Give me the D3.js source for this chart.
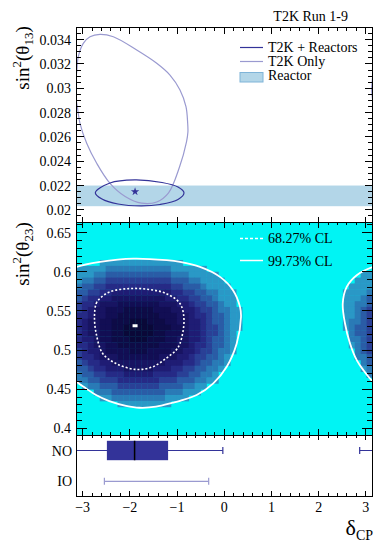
<!DOCTYPE html>
<html>
<head>
<meta charset="utf-8">
<script src="https://cdn.jsdelivr.net/npm/d3@7"></script>
<style>
  body { margin: 0; background: #fff; }
  svg text { font-family: "Liberation Serif", "Times New Roman", serif; fill: #000; }
</style>
</head>
<body>
<svg id="chart" width="389" height="548"></svg>
<script>
// ---- axis ticks / labels
const dcpTicks = [-3, -2, -1, 0, 1, 2, 3];
const dcpTickLabels = ['\u22123', '\u22122', '\u22121', '0', '1', '2', '3'];
const s13Ticks = [0.02, 0.022, 0.024, 0.026, 0.028, 0.03, 0.032, 0.034];
const s13TickLabels = ['0.02', '0.022', '0.024', '0.026', '0.028', '0.03', '0.032', '0.034'];
const s23Ticks = [0.4, 0.45, 0.5, 0.55, 0.6, 0.65];
const s23TickLabels = ['0.4', '0.45', '0.5', '0.55', '0.6', '0.65'];
const orderings = ['NO', 'IO'];

// ---- top panel: sin^2(theta13) vs dCP
const reactorBand = [0.0203, 0.0220];
const t2kOnlyDcp = [-2.633, -2.351, -1.855, -1.431, -1.150, -0.938, -0.811, -0.775, -0.770, -0.800, -0.950,
  -1.180, -1.431, -1.750, -2.100, -2.421, -2.703, -2.915, -3.057, -3.110, -3.150, -3.160, -3.148, -3.125, -3.093, -2.987, -2.845];
const t2kOnlyS13 = [0.03444, 0.03424, 0.03315, 0.03206, 0.03109, 0.02986, 0.02849, 0.02712, 0.02640, 0.02560, 0.02350,
  0.02140, 0.02065, 0.02055, 0.02110, 0.02218, 0.02383, 0.02547, 0.02712, 0.02838, 0.02940, 0.03000, 0.03060, 0.03140, 0.03260, 0.03370, 0.03424];
const t2kReacDcp = [-2.732, -2.421, -1.898, -1.319, -0.980, -0.853, -0.980, -1.361, -1.764, -2.252, -2.591];
const t2kReacS13 = [0.02141, 0.02221, 0.02246, 0.02225, 0.02188, 0.02141, 0.02085, 0.02044, 0.02032, 0.02048, 0.02089];
const bestFitTop = [-1.89, 0.02150];

// ---- middle panel: sin^2(theta23) vs dCP
const cl68Dcp = [-2.750, -2.714, -2.630, -2.433, -2.009, -1.586, -1.232, -0.938, -0.853, -0.938, -1.022, -1.234,
  -1.516, -1.870, -2.294, -2.576, -2.714];
const cl68S23 = [0.5423, 0.5594, 0.5662, 0.5742, 0.5785, 0.5773, 0.5722, 0.5594, 0.5381, 0.5084, 0.4999, 0.4893,
  0.4786, 0.4752, 0.4829, 0.4956, 0.5212];
const cl997Dcp = [-3.142, -2.633, -1.927, -1.219, -0.938, -0.514, -0.090, 0.185, 0.334, 0.355, 0.264, 0.052, -0.232,
  -0.584, -0.938, -1.092, -1.446, -1.800, -2.082, -2.436, -2.717, -2.929, -3.142, -3.336, -3.476, -3.618, -3.724,
  -3.772, -3.688, -3.476];
const cl997S23 = [0.6058, 0.6125, 0.6168, 0.6147, 0.6125, 0.6061, 0.5934, 0.5764, 0.5551, 0.5423, 0.5084, 0.4786, 0.4574,
  0.4425, 0.4352, 0.4327, 0.4276, 0.4263, 0.4288, 0.4348, 0.4425, 0.4510, 0.4602, 0.4744, 0.4871, 0.5084, 0.5339,
  0.5594, 0.5806, 0.5955];
const bestFitMid = [-1.89, 0.531];

// heat map: 50 dCP bins, rows of 0.0075 in sin^2(theta23) from 0.615 downwards
// digit = colour level, '.' = empty cell
const heatCols = 50;
const heatTop = 0.615;
const heatBin = 0.0075;
const heatLeft = [
  '....99999999999999',
  '9999988888888888999999',
  '999887777777777788899999',
  '9887766666666666777889999',
  '87766555555555556677789999',
  '776655444444444455667788999',
  '765544333333333445566778999',
  '655433322222223334456677899',
  '6543322211111222334456678899',
  '5543322111111122233455677899',
  '5433221110001112233445677899',
  '5433221100000111223445667899',
  '543322110000011222344566789',
  '544322111000111223344567789',
  '554332211111112223345567789',
  '654432222111222233445667889',
  '65543332222222333445667789',
  '76554433333333344455677889',
  '7765544433333444556677889',
  '877665554444455556677889',
  '887766655555556667778899',
  '.988777666666677778899',
  '...888777777777888999',
  '....998888888889999',
  '.......999999999'
];
const heatRight = ['', '', '99', '999', '9999', '99998', '99987', '99887', '99876', '99876', '98876', '98776',
  '8776', '8876', '9876', '876', '887', '87', '98', '8', '', '', '', '', ''];
const heatColors = ['#0a0838', '#0e0b46', '#120e54', '#181462', '#1f1c74', '#262a86', '#2a4096', '#2a5ca6', '#2a7ab6', '#2a98c6'];

// ---- bottom panel: 1D intervals
const noBox = [-2.487, -1.90, -1.19];           // q1, median, q3
const noWhiskers = [[-Math.PI, -0.03], [2.87, Math.PI]];
const noCaps = [-0.03, 2.87];
const ioWhisker = [-2.54, -0.33];

const NAVY = '#333399', LILAC = '#9a9ad0', CYAN = '#00f4f4';

const svg = d3.select('#chart');
const X0 = 76, X1 = 372.5;
const TOP0 = 27.5, MID0 = 222, MID1 = 435, BOT1 = 496.5;
const x = d3.scaleLinear().domain([-Math.PI, Math.PI]).range([X0, X1]);
const yTop = d3.scaleLinear().domain([0.019, 0.035]).range([MID0, TOP0]);
const yMid = d3.scaleLinear().domain([0.3915, 0.6635]).range([MID1, MID0]);
const yBot = d3.scalePoint().domain(orderings).range([450.5, 481.3]);
const period = x(Math.PI) - x(-Math.PI);

const defs = svg.append('defs');
defs.append('clipPath').attr('id', 'clipTop').append('rect')
  .attr('x', X0).attr('y', TOP0).attr('width', X1 - X0).attr('height', MID0 - TOP0);
defs.append('clipPath').attr('id', 'clipMid').append('rect')
  .attr('x', X0).attr('y', MID0).attr('width', X1 - X0).attr('height', MID1 - MID0);
defs.append('clipPath').attr('id', 'clipBot').append('rect')
  .attr('x', X0).attr('y', MID1).attr('width', X1 - X0).attr('height', BOT1 - MID1);

// ================= top panel
const topG = svg.append('g').attr('clip-path', 'url(#clipTop)');
topG.append('rect')
  .attr('x', X0).attr('width', X1 - X0)
  .attr('y', yTop(reactorBand[1])).attr('height', yTop(reactorBand[0]) - yTop(reactorBand[1]))
  .attr('fill', '#b3d6e8');

const lineTop = d3.line().x(d => x(d[0])).y(d => yTop(d[1])).curve(d3.curveCatmullRomClosed.alpha(0.5));
const t2kOnly = d3.zip(t2kOnlyDcp, t2kOnlyS13);
[0, period].forEach(dx => {
  topG.append('path').attr('d', lineTop(t2kOnly)).attr('transform', `translate(${dx},0)`)
    .attr('fill', 'none').attr('stroke', LILAC).attr('stroke-width', 1.2);
});
topG.append('path').attr('d', lineTop(d3.zip(t2kReacDcp, t2kReacS13)))
  .attr('fill', 'none').attr('stroke', NAVY).attr('stroke-width', 1.2);
topG.append('path').attr('d', d3.symbol(d3.symbolStar, 22)())
  .attr('transform', `translate(${x(bestFitTop[0])},${yTop(bestFitTop[1])})`)
  .attr('fill', NAVY);

// ================= middle panel
const midG = svg.append('g').attr('clip-path', 'url(#clipMid)');
midG.append('rect').attr('x', X0).attr('y', MID0).attr('width', X1 - X0).attr('height', MID1 - MID0).attr('fill', CYAN);

const binW = 2 * Math.PI / heatCols;
const cells = [];
heatLeft.forEach((row, i) => {
  row.split('').forEach((ch, c) => { if (ch !== '.') cells.push({ i, c, lv: +ch }); });
  const r = heatRight[i];
  r.split('').forEach((ch, k) => { if (ch !== '.') cells.push({ i, c: heatCols - r.length + k, lv: +ch }); });
});
midG.append('g').selectAll('rect').data(cells).join('rect')
  .attr('x', d => x(-Math.PI + d.c * binW))
  .attr('width', d => x(-Math.PI + (d.c + 1) * binW) - x(-Math.PI + d.c * binW) + 0.4)
  .attr('y', d => yMid(heatTop - d.i * heatBin))
  .attr('height', d => yMid(heatTop - (d.i + 1) * heatBin) - yMid(heatTop - d.i * heatBin) + 0.4)
  .attr('fill', d => heatColors[d.lv]);

const lineMid = d3.line().x(d => x(d[0])).y(d => yMid(d[1])).curve(d3.curveCatmullRomClosed.alpha(0.5));
[0, period].forEach(dx => {
  midG.append('path').attr('d', lineMid(d3.zip(cl997Dcp, cl997S23))).attr('transform', `translate(${dx},0)`)
    .attr('fill', 'none').attr('stroke', '#fff').attr('stroke-width', 1.8);
});
midG.append('path').attr('d', lineMid(d3.zip(cl68Dcp, cl68S23)))
  .attr('fill', 'none').attr('stroke', '#fff').attr('stroke-width', 1.6).attr('stroke-dasharray', '2,2');
midG.append('rect')
  .attr('x', x(bestFitMid[0]) - 2.5).attr('y', yMid(bestFitMid[1]) - 1.5)
  .attr('width', 5).attr('height', 3).attr('fill', '#fff');

// ================= bottom panel
const botG = svg.append('g').attr('clip-path', 'url(#clipBot)');
const yNO = yBot('NO'), yIO = yBot('IO');
noWhiskers.forEach(w => {
  botG.append('line').attr('x1', x(w[0])).attr('x2', x(w[1])).attr('y1', yNO).attr('y2', yNO)
    .attr('stroke', NAVY).attr('stroke-width', 1.2);
});
noCaps.forEach(v => {
  botG.append('line').attr('x1', x(v)).attr('x2', x(v)).attr('y1', yNO - 3.5).attr('y2', yNO + 3.5)
    .attr('stroke', NAVY).attr('stroke-width', 1.2);
});
botG.append('rect').attr('x', x(noBox[0])).attr('width', x(noBox[2]) - x(noBox[0]))
  .attr('y', yNO - 9.7).attr('height', 19.4).attr('fill', NAVY);
botG.append('line').attr('x1', x(noBox[1])).attr('x2', x(noBox[1])).attr('y1', yNO - 9.7).attr('y2', yNO + 9.7)
  .attr('stroke', '#000').attr('stroke-width', 1.5);
botG.append('line').attr('x1', x(ioWhisker[0])).attr('x2', x(ioWhisker[1])).attr('y1', yIO).attr('y2', yIO)
  .attr('stroke', LILAC).attr('stroke-width', 1.2);
ioWhisker.forEach(v => {
  botG.append('line').attr('x1', x(v)).attr('x2', x(v)).attr('y1', yIO - 3.5).attr('y2', yIO + 3.5)
    .attr('stroke', LILAC).attr('stroke-width', 1.2);
});

// ================= frames and ticks
const axes = svg.append('g').attr('stroke', '#000').attr('stroke-width', 1).attr('shape-rendering', 'crispEdges');
axes.append('path').attr('fill', 'none')
  .attr('d', `M${X0},${MID0}V${TOP0}H${X1}V${MID0}`);
axes.append('rect').attr('fill', 'none').attr('x', X0).attr('y', MID0).attr('width', X1 - X0).attr('height', MID1 - MID0);
axes.append('rect').attr('fill', 'none').attr('x', X0).attr('y', MID1).attr('width', X1 - X0).attr('height', BOT1 - MID1);

const dcpMinor = d3.range(-15, 16).map(i => ({ v: i * 0.2, major: i % 5 === 0 }));
function xTicks(yEdge, dir, majL, minL, majorOnly) {
  dcpMinor.filter(t => !majorOnly || t.major).forEach(t => {
    axes.append('line').attr('x1', x(t.v)).attr('x2', x(t.v))
      .attr('y1', yEdge).attr('y2', yEdge + dir * (t.major ? majL : minL));
  });
}
xTicks(TOP0, 1, 6, 3.5);
xTicks(MID0, -1, 5, 3, true);
xTicks(MID0, 1, 6, 3);
xTicks(MID1, -1, 6, 3);
xTicks(MID1, 1, 5, 2.5);
xTicks(BOT1, -1, 6, 3.5);

function yTicks(scale, list, majL, minL) {
  list.forEach(t => {
    const y = scale(t.v), L = t.major ? majL : minL;
    axes.append('line').attr('x1', X0).attr('x2', X0 + L).attr('y1', y).attr('y2', y);
    axes.append('line').attr('x1', X1).attr('x2', X1 - L).attr('y1', y).attr('y2', y);
  });
}
yTicks(yTop, d3.range(39, 70).map(i => ({ v: i * 0.0005, major: i % 4 === 0 })), 8, 5);
yTicks(yMid, d3.range(40, 67).map(i => ({ v: i / 100, major: i % 5 === 0 })), 11, 6);

// ================= tick labels
const labels = svg.append('g').attr('font-size', 14);
s13Ticks.forEach((v, i) => {
  labels.append('text').attr('x', 71).attr('y', yTop(v) + 5).attr('text-anchor', 'end').text(s13TickLabels[i]);
});
s23Ticks.forEach((v, i) => {
  labels.append('text').attr('x', 71).attr('y', yMid(v) + 5).attr('text-anchor', 'end').text(s23TickLabels[i]);
});
orderings.forEach(o => {
  labels.append('text').attr('x', 72).attr('y', yBot(o) + 5).attr('text-anchor', 'end').text(o);
});
dcpTicks.forEach((v, i) => {
  labels.append('text').attr('x', x(v)).attr('y', 512).attr('text-anchor', 'middle').text(dcpTickLabels[i]);
});

// ================= axis titles
function sinTitle(cx, cy, sub) {
  const t = svg.append('text').attr('transform', `translate(${cx},${cy}) rotate(-90)`)
    .attr('text-anchor', 'middle').attr('font-size', 19);
  t.append('tspan').text('sin');
  t.append('tspan').attr('font-size', 13).attr('dy', -8).text('2');
  t.append('tspan').attr('dy', 8).text('(\u03b8');
  t.append('tspan').attr('font-size', 13).attr('dy', 4).text(sub);
  t.append('tspan').attr('dy', -4).text(')');
}
sinTitle(29, 58, '13');
sinTitle(29, 254, '23');

const dt = svg.append('text').attr('x', 373).attr('y', 535).attr('text-anchor', 'end');
dt.append('tspan').attr('font-size', 22).text('\u03b4');
dt.append('tspan').attr('font-size', 14).attr('dy', 5).text('CP');

svg.append('text').attr('x', 348).attr('y', 21).attr('text-anchor', 'end').attr('font-size', 14).text('T2K Run 1-9');

// ================= legends
const lg = svg.append('g').attr('font-size', 14);
lg.append('line').attr('x1', 240).attr('x2', 263).attr('y1', 47.5).attr('y2', 47.5).attr('stroke', NAVY).attr('stroke-width', 1.2);
lg.append('text').attr('x', 268).attr('y', 52).text('T2K + Reactors');
lg.append('line').attr('x1', 240).attr('x2', 263).attr('y1', 61.5).attr('y2', 61.5).attr('stroke', LILAC).attr('stroke-width', 1.2);
lg.append('text').attr('x', 268).attr('y', 66).text('T2K Only');
lg.append('rect').attr('x', 240).attr('y', 72.5).attr('width', 23).attr('height', 9.5)
  .attr('fill', '#b3d6e8').attr('stroke', '#7fb4d8').attr('stroke-width', 1);
lg.append('text').attr('x', 268).attr('y', 80).text('Reactor');

lg.append('line').attr('x1', 240).attr('x2', 263).attr('y1', 238.5).attr('y2', 238.5)
  .attr('stroke', '#fff').attr('stroke-width', 1.5).attr('stroke-dasharray', '3,2');
lg.append('text').attr('x', 268).attr('y', 243).text('68.27% CL');
lg.append('line').attr('x1', 240).attr('x2', 263).attr('y1', 260.5).attr('y2', 260.5)
  .attr('stroke', '#fff').attr('stroke-width', 1.5);
lg.append('text').attr('x', 268).attr('y', 265.5).text('99.73% CL');
</script>
</body>
</html>
